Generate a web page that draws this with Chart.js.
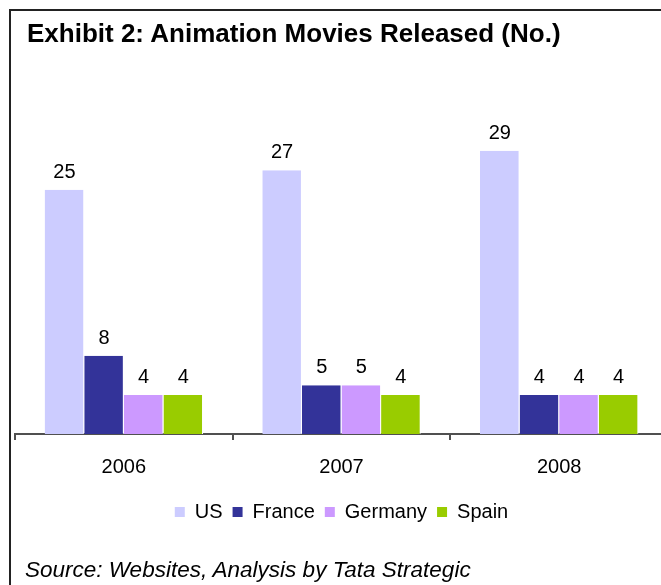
<!DOCTYPE html>
<html>
<head>
<meta charset="utf-8">
<script src="https://cdn.jsdelivr.net/npm/chart.js@4/dist/chart.umd.min.js"></script>
<style>
  html, body { margin: 0; padding: 0; background: #fff; overflow: hidden; width: 661px; height: 585px; }
  #frame { position: absolute; left: 9px; top: 9px; width: 700px; height: 600px;
           border-left: 2px solid #222; border-top: 2px solid #222; box-sizing: border-box; }
  #chart { position: absolute; left: 0; top: 0; }
  #title { position: absolute; left: 27px; top: 20px; font: bold 26px/26px "Liberation Sans", Arial, sans-serif;
           color: #000; white-space: nowrap; }
  #source { position: absolute; left: 25px; top: 559px; font: italic 22.5px/22px "Liberation Sans", Arial, sans-serif;
            color: #000; white-space: nowrap; }
</style>
</head>
<body>
<canvas id="chart" width="683" height="585"></canvas>
<div id="frame"></div>
<div id="title">Exhibit 2: Animation Movies Released (No.)</div>
<div id="source">Source: Websites, Analysis by Tata Strategic</div>
<script>
const years = ['2006', '2007', '2008'];
const seriesNames = ['US', 'France', 'Germany', 'Spain'];
const usValues = [25, 27, 29];
const franceValues = [8, 5, 4];
const germanyValues = [4, 5, 4];
const spainValues = [4, 4, 4];
const seriesColors = ['#CCCCFF', '#333399', '#CC99FF', '#99CC00'];

const FONT = '"Liberation Sans", Arial, sans-serif';
const allValues = [usValues, franceValues, germanyValues, spainValues];

const valueLabels = {
  id: 'valueLabels',
  afterDatasetsDraw(chart) {
    const ctx = chart.ctx;
    ctx.save();
    ctx.font = '20px ' + FONT;
    ctx.fillStyle = '#000';
    ctx.textAlign = 'center';
    ctx.textBaseline = 'alphabetic';
    chart.data.datasets.forEach((ds, i) => {
      const meta = chart.getDatasetMeta(i);
      if (meta.hidden) return;
      meta.data.forEach((bar, j) => {
        ctx.fillText(String(ds.data[j]), bar.x, bar.y - 12);
      });
    });
    ctx.restore();
  }
};

new Chart(document.getElementById('chart'), {
  type: 'bar',
  data: {
    labels: years,
    datasets: seriesNames.map((name, i) => ({
      label: name,
      data: allValues[i],
      backgroundColor: seriesColors[i],
      borderColor: '#ffffff',
      borderWidth: { left: 0, right: 1, top: 0, bottom: 0 },
      borderSkipped: false,
      categoryPercentage: 0.7276,
      barPercentage: 1.0
    }))
  },
  options: {
    responsive: false,
    animation: false,
    layout: { padding: { left: 15, right: 15, top: 141, bottom: 53 } },
    scales: {
      x: {
        grid: { display: true, drawOnChartArea: false, drawTicks: true, tickLength: 6, color: '#505050', lineWidth: 2, offset: true },
        border: { display: true, color: '#505050', width: 2 },
        ticks: { color: '#000', font: { family: FONT, size: 20 }, padding: 15 },
        afterFit(scale) { scale.height -= 2; }
      },
      y: { display: false, min: 0, max: 30 }
    },
    plugins: {
      legend: {
        position: 'bottom',
        labels: {
          boxWidth: 10, boxHeight: 10, padding: 10, color: '#000',
          font: { family: FONT, size: 20 },
          generateLabels(chart) {
            return chart.data.datasets.map((ds, i) => ({
              text: ds.label, fillStyle: ds.backgroundColor, strokeStyle: ds.backgroundColor,
              lineWidth: 0, hidden: false, datasetIndex: i, fontColor: '#000'
            }));
          }
        }
      },
      title: { display: false },
      tooltip: { enabled: false }
    }
  },
  plugins: [valueLabels]
});
</script>
</body>
</html>
